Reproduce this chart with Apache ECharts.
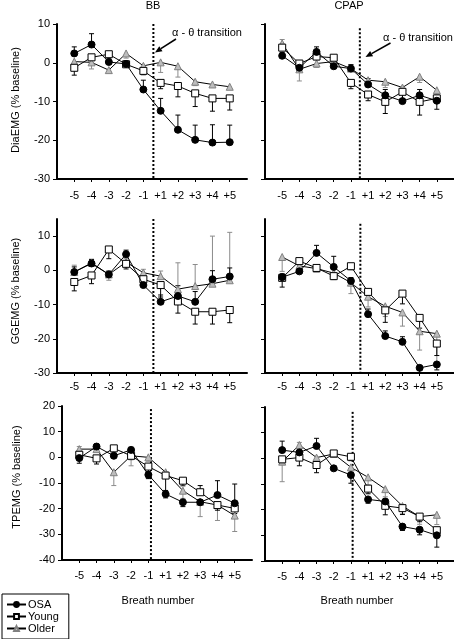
<!DOCTYPE html>
<html><head><meta charset="utf-8">
<script src="https://cdn.jsdelivr.net/npm/echarts@6/dist/echarts.min.js"></script>
<style>html,body{margin:0;padding:0;background:#fff}#c{width:454px;height:639px}</style>
</head><body><div id="c"></div>
<script>
// ---------- data ----------
const breaths = ['-5','-4','-3','-2','-1','+1','+2','+3','+4','+5'];
const groups = ['OSA','Young','Older'];
const conditions = ['BB','CPAP'];
const yTitles = ['DiaEMG (% baseline)','GGEMG (% baseline)','TPEMG (% baseline)'];
const xTitle = 'Breath number';
const noteText = 'α - θ transition';

// DiaEMG, BB
const diaBB_OSA   = [2.4, 4.7, 0.2, -0.3, -6.9, -12.4, -17.3, -19.9, -20.6, -20.5];
const diaBB_Young = [-1.3, 1.4, 2.2, -0.4, -2.1, -5.2, -6.0, -7.9, -9.2, -9.2];
const diaBB_Older = [0.3, 0.1, -1.9, 2.4, -0.8, 0.1, -0.9, -4.9, -5.6, -6.2];
const diaBB_OSA_err   = [1.7, 2.8, 1.0, 0.8, 2.4, 3.2, 3.8, 3.8, 4.6, 4.4];
const diaBB_Young_err = [-1.9, -1.5, -0.7, -0.5, -1.0, -1.5, -2.8, -3.4, -3.3, -3.0];
const diaBB_Older_err = [-1.0, -1.7, -0.6, -1.2, -1.2, -2.6, -2.8, -1.0, -0.8, -0.6];
// DiaEMG, CPAP
const diaCP_OSA   = [1.8, -1.3, 2.8, -0.9, -1.5, -5.6, -8.4, -9.9, -8.4, -9.8];
const diaCP_Young = [3.9, -0.2, 1.6, 1.3, -5.2, -8.2, -10.1, -7.5, -10.1, -9.2];
const diaCP_Older = [5.0, -1.7, -0.2, 0.3, -1.5, -4.5, -4.9, -6.4, -3.6, -7.1];
const diaCP_OSA_err   = [0.8, 1.0, 1.3, 1.0, 1.0, 1.5, 1.5, 1.8, 1.5, 1.2];
const diaCP_Young_err = [-0.8, -1.0, -0.8, -0.8, -1.5, -1.6, -3.0, -2.5, -3.4, -2.8];
const diaCP_Older_err = [1.0, -3.0, -1.0, -1.0, 1.0, -1.5, -1.5, -1.5, -1.5, -1.0];
// GGEMG, BB
const ggBB_OSA   = [-0.5, 2.0, -1.2, 4.7, -4.3, -9.2, -7.5, -9.2, -2.6, -1.8];
const ggBB_Young = [-3.4, -1.5, 6.1, 1.9, -2.6, -4.3, -9.1, -12.1, -12.1, -11.6];
const ggBB_Older = [-0.5, 2.2, -1.2, 2.4, -0.7, -1.7, -5.5, -4.6, -3.9, -2.9];
const ggBB_OSA_err   = [1.5, 1.2, 1.0, 1.2, 1.5, 2.0, 3.0, 3.0, 2.5, 2.5];
const ggBB_Young_err = [-2.6, -2.4, -2.7, -1.5, -2.0, -3.5, -3.4, -3.6, -3.6, -3.7];
const ggBB_Older_err = [2.0, 1.0, -1.7, 1.0, 1.0, 1.5, 7.7, 6.3, 13.9, 14.0];
// GGEMG, CPAP
const ggCP_OSA   = [-2.0, -0.3, 5.1, 1.0, -3.1, -12.8, -19.2, -20.9, -28.5, -27.5];
const ggCP_Young = [-2.2, 2.7, 0.7, -1.7, 1.2, -6.3, -11.7, -6.8, -13.9, -21.4];
const ggCP_Older = [3.9, 1.3, 0.5, -0.8, -3.6, -7.7, -10.5, -12.3, -17.8, -18.5];
const ggCP_OSA_err   = [1.0, 1.0, 2.2, 3.1, 1.0, 1.5, 1.5, 1.5, -1.5, -1.6];
const ggCP_Young_err = [-2.7, -1.0, -1.0, -1.0, -1.0, -2.0, -3.5, -3.0, -3.0, -3.5];
const ggCP_Older_err = [-4.2, -1.0, -1.0, -1.0, -3.2, -3.0, -3.0, -4.0, -5.5, -9.0];
// TPEMG, BB
const tpBB_OSA   = [-0.3, 4.2, 0.6, 2.9, -6.8, -14.3, -17.5, -17.5, -14.7, -17.9];
const tpBB_Young = [1.0, -0.4, 3.5, 0.6, -3.6, -7.1, -9.1, -13.6, -18.6, -19.9];
const tpBB_Older = [3.2, 3.2, -5.8, 0.6, 0.0, -5.8, -13.0, -17.3, -18.6, -22.7];
const tpBB_OSA_err   = [-2.0, 1.0, 1.0, 1.0, -1.5, -1.5, -1.7, 1.0, 5.6, 7.5];
const tpBB_Young_err = [-1.5, -2.2, -1.0, -1.5, -2.0, -5.8, -2.0, 2.6, -2.0, -2.0];
const tpBB_Older_err = [1.0, 1.0, -5.2, -3.9, -1.5, -2.0, -3.0, -5.8, -6.0, -6.2];
// TPEMG, CPAP
const tpCP_OSA   = [3.2, 2.3, 4.8, -3.9, -6.5, -16.0, -16.8, -26.6, -27.8, -30.0];
const tpCP_Young = [-0.4, 0.3, -2.6, 1.9, 0.6, -11.8, -18.5, -19.4, -22.7, -28.0];
const tpCP_Older = [-1.3, 5.2, 0.3, 1.7, -3.5, -7.4, -12.0, -18.6, -22.7, -22.0];
const tpCP_OSA_err   = [3.5, 1.5, 3.0, 1.0, -3.2, -1.5, -1.5, -1.5, -2.0, -4.6];
const tpCP_Young_err = [-2.0, -3.2, -3.0, -1.5, -1.5, -2.0, -3.5, -2.5, -2.0, -2.0];
const tpCP_Older_err = [-7.8, 1.0, -1.0, -1.0, -2.0, -3.0, -3.0, -3.0, -3.0, -3.8];

// y ranges per row, tick values
const yMin = [-30, -30, -40];
const yMax = [10, 15, 20];
const yTicks = [[-30,-20,-10,0,10], [-30,-20,-10,0,10], [-40,-30,-20,-10,0,10,20]];
// transition marker (x in breath-index units, top in y units) per panel
const transitionX   = [4.58, 4.52, 4.58, 4.55, 4.15, 4.10];
const transitionTop = [10, 8.9, 15, 13.6, 18.8, 18.1];

// ---------- layout & styles ----------
const panels = [
  {row:0, col:0, d:[diaBB_OSA, diaBB_Young, diaBB_Older], e:[diaBB_OSA_err, diaBB_Young_err, diaBB_Older_err]},
  {row:0, col:1, d:[diaCP_OSA, diaCP_Young, diaCP_Older], e:[diaCP_OSA_err, diaCP_Young_err, diaCP_Older_err]},
  {row:1, col:0, d:[ggBB_OSA, ggBB_Young, ggBB_Older], e:[ggBB_OSA_err, ggBB_Young_err, ggBB_Older_err]},
  {row:1, col:1, d:[ggCP_OSA, ggCP_Young, ggCP_Older], e:[ggCP_OSA_err, ggCP_Young_err, ggCP_Older_err]},
  {row:2, col:0, d:[tpBB_OSA, tpBB_Young, tpBB_Older], e:[tpBB_OSA_err, tpBB_Young_err, tpBB_Older_err]},
  {row:2, col:1, d:[tpCP_OSA, tpCP_Young, tpCP_Older], e:[tpCP_OSA_err, tpCP_Young_err, tpCP_Older_err]}
];
const gridPos = [
  {left:57, top:24, width:190, height:155},
  {left:265, top:24, width:189, height:155},
  {left:57, top:219, width:190, height:154},
  {left:265, top:219, width:189, height:154},
  {left:62, top:406, width:190, height:154},
  {left:265, top:407, width:189, height:154}
];
const xLabelMargin = [11, 8, 10];
const FONT = '"Liberation Sans", Arial, sans-serif';
const groupStyle = [
  {symbol:'circle', size:7, fill:'#000', border:'#000', err:'#000'},
  {symbol:'rect', size:7, fill:'#fff', border:'#000', err:'#000'},
  {symbol:'triangle', size:7, fill:'#bdbdbd', border:'#808080', err:'#8c8c8c'}
];

function errRenderer(color) {
  return function (params, api) {
    const x = api.value(0), y = api.value(1), e = api.value(2);
    const p0 = api.coord([x, y]);
    const p1 = api.coord([x, y + e]);
    const hw = 2.5;
    const st = {stroke: color, lineWidth: 1};
    return {type:'group', children:[
      {type:'line', shape:{x1:p0[0], y1:p0[1], x2:p1[0], y2:p1[1]}, style:st},
      {type:'line', shape:{x1:p1[0]-hw, y1:p1[1], x2:p1[0]+hw, y2:p1[1]}, style:st}
    ]};
  };
}

const grid = [], xAxis = [], yAxis = [], series = [];
const idx = breaths.map((b, i) => i);
panels.forEach((p, k) => {
  grid.push(Object.assign({containLabel:false}, gridPos[k]));
  xAxis.push({
    type:'value', gridIndex:k, min:-1, max:10, interval:1,
    axisLine:{onZero:false, lineStyle:{color:'#000', width:2}},
    axisTick:{show:true, length:3, customValues:idx, lineStyle:{color:'#000', width:1}},
    axisLabel:{show:true, customValues:idx, margin:xLabelMargin[p.row], color:'#000', fontSize:11, fontFamily:FONT,
      formatter: v => (breaths[v] !== undefined && Number.isInteger(v)) ? breaths[v] : ''},
    splitLine:{show:false}
  });
  yAxis.push({
    type:'value', gridIndex:k, min:yMin[p.row], max:yMax[p.row], interval:10,
    axisLine:{show:true, onZero:false, lineStyle:{color:'#000', width:2}},
    axisTick:{show:true, length:4, customValues:yTicks[p.row], lineStyle:{color:'#000', width:1}},
    axisLabel:{show:p.col === 0, customValues:yTicks[p.row], margin:7, color:'#000', fontSize:11, fontFamily:FONT,
      formatter: v => yTicks[p.row].indexOf(v) >= 0 ? String(v) : ''},
    splitLine:{show:false}
  });
  // transition dotted line
  series.push({
    type:'line', xAxisIndex:k, yAxisIndex:k, symbol:'none', silent:true, z:1,
    data:[[transitionX[k], transitionTop[k]], [transitionX[k], yMin[p.row]]],
    lineStyle:{color:'#000', width:2, type:[2,2]}
  });
  // error bars then lines (Older, Young, OSA)
  [2, 1, 0].forEach(g => {
    const st = groupStyle[g];
    series.push({
      type:'custom', xAxisIndex:k, yAxisIndex:k, z:2, silent:true,
      renderItem: errRenderer(st.err),
      data: p.d[g].map((v, i) => [i, v, p.e[g][i]])
    });
  });
  [2, 1, 0].forEach(g => {
    const st = groupStyle[g];
    series.push({
      type:'line', name:groups[g], xAxisIndex:k, yAxisIndex:k, z:3 + (2 - g),
      symbol:st.symbol, symbolSize:st.size, showAllSymbol:true,
      data: p.d[g].map((v, i) => [i, v]),
      lineStyle:{color:'#000', width:1},
      itemStyle:{color:st.fill, borderColor:st.border, borderWidth:1},
      emphasis:{disabled:true}
    });
  });
});

function arrow(x1, y1, x2, y2) {
  const dx = x2 - x1, dy = y2 - y1, L = Math.sqrt(dx*dx + dy*dy);
  const ux = dx / L, uy = dy / L, hl = 7, hw = 3;
  const bx = x2 - ux*hl, by = y2 - uy*hl;
  return [
    {type:'line', shape:{x1:x1, y1:y1, x2:bx, y2:by}, style:{stroke:'#000', lineWidth:1.5}},
    {type:'polygon', shape:{points:[[x2, y2], [bx - uy*hw, by + ux*hw], [bx + uy*hw, by - ux*hw]]}, style:{fill:'#000'}}
  ];
}

const txt = (x, y, s) => ({type:'text', x:x, y:y,
  style:{text:s, fill:'#000', font:'11px ' + FONT, textAlign:'center', textVerticalAlign:'middle'}});
const vtxt = (x, y, s) => ({type:'text', x:x, y:y, rotation:Math.PI/2,
  style:{text:s, fill:'#000', font:'11px ' + FONT, textAlign:'center', textVerticalAlign:'middle'}});
const ltxt = (x, y, s) => ({type:'text', x:x, y:y,
  style:{text:s, fill:'#000', font:'11px ' + FONT, textAlign:'left', textVerticalAlign:'middle'}});

const graphic = [
  txt(153, 6, conditions[0]),
  txt(349, 6, conditions[1]),
  vtxt(16, 100, yTitles[0]),
  vtxt(16, 291, yTitles[1]),
  vtxt(17, 477, yTitles[2]),
  txt(158, 601, xTitle),
  txt(357, 601, xTitle),
  ltxt(172, 33, noteText),
  ltxt(383, 38, noteText)
].concat(arrow(176, 39, 155, 52.5)).concat(arrow(390.5, 43, 365.5, 57));

const chart = echarts.init(document.getElementById('c'), null, {renderer:'canvas'});
chart.setOption({
  animation:false,
  backgroundColor:'#fff',
  grid:grid, xAxis:xAxis, yAxis:yAxis, series:series,
  legend:{
    type:'plain', data:groups, orient:'vertical', left:2, top:594, height:200, width:100,
    borderColor:'#000', borderWidth:1, borderRadius:0, padding:[5, 10, 5, 4],
    itemWidth:19, itemHeight:6, itemGap:1, selectedMode:false,
    textStyle:{color:'#000', fontSize:11, fontFamily:FONT, lineHeight:10, padding:[0,0,0,-3]}
  },
  graphic:graphic
});
</script></body></html>
